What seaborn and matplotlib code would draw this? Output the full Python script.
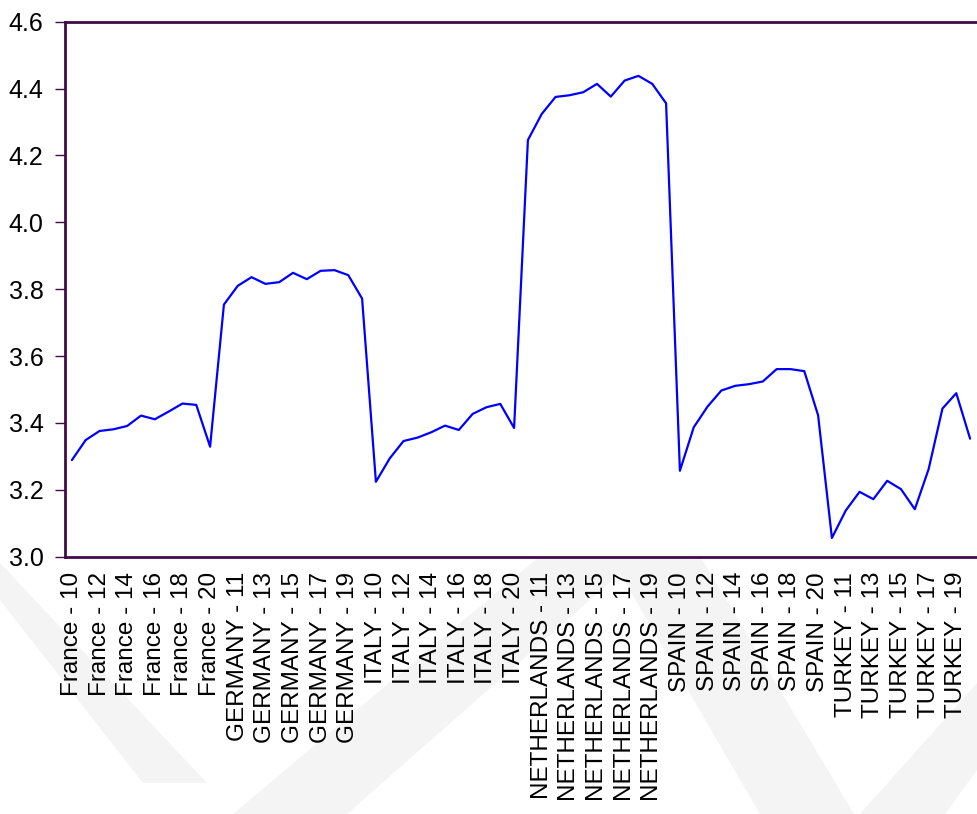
import matplotlib
matplotlib.use("Agg")
import matplotlib.pyplot as plt
from matplotlib.patches import Polygon
import numpy as np
import pandas as pd
import seaborn as sns

# Panel observations, years 2010-2020 for each country
countries = ["France", "GERMANY", "ITALY", "NETHERLANDS", "SPAIN", "TURKEY"]
years = list(range(10, 21))

france = [3.289, 3.349, 3.376, 3.381, 3.391, 3.422, 3.411, 3.434, 3.458, 3.454, 3.329]
germany = [3.754, 3.810, 3.836, 3.816, 3.821, 3.849, 3.830, 3.855, 3.857, 3.842, 3.772]
italy = [3.224, 3.294, 3.346, 3.356, 3.372, 3.392, 3.379, 3.427, 3.447, 3.457, 3.385]
netherlands = [4.246, 4.324, 4.375, 4.380, 4.389, 4.414, 4.376, 4.424, 4.438, 4.414, 4.356]
spain = [3.257, 3.387, 3.449, 3.497, 3.511, 3.516, 3.524, 3.561, 3.561, 3.555, 3.423]
turkey = [3.056, 3.138, 3.194, 3.172, 3.227, 3.202, 3.142, 3.262, 3.443, 3.489, 3.353]

series = [france, germany, italy, netherlands, spain, turkey]
labels = [f"{c} - {y}" for c in countries for y in years]
values = [v for s in series for v in s]

df = pd.DataFrame({"obs": np.arange(len(values)), "label": labels, "value": values})

sns.set_style("white")
plt.rcParams["font.family"] = ["Liberation Sans", "DejaVu Sans"]

W, H = 977, 814
frame = "#420b48"

fig = plt.figure(figsize=(W / 100, H / 100), dpi=100)
fig.patch.set_facecolor("white")

# faint background emblem
def px(points):
    return [(x / W, 1 - y / H) for x, y in points]

emblem = [
    [(0, 563), (207, 783), (143, 783), (0, 600)],
    [(233, 814), (347, 814), (640, 556), (540, 556)],
    [(610, 556), (700, 556), (854, 814), (760, 814)],
    [(860, 814), (945, 814), (977, 770), (977, 683)],
]
for poly in emblem:
    fig.patches.append(Polygon(px(poly), closed=True, transform=fig.transFigure,
                               facecolor="#f4f4f4", edgecolor="none", zorder=0))

left, right, top, bottom = 65, 977, 21.7, 556.7
ax = fig.add_axes([left / W, 1 - bottom / H, (right - left) / W, (bottom - top) / H])
ax.set_facecolor("white")
ax.set_zorder(1)

sns.lineplot(data=df, x="obs", y="value", ax=ax, color="#0000ff", linewidth=1.6)

ax.set_xlim(-0.5, len(values) - 0.5)
ax.set_ylim(3.0, 4.6)
ax.set_xlabel("")
ax.set_ylabel("")

yt = np.round(np.arange(3.0, 4.61, 0.2), 1)
ax.set_yticks(yt)
ax.set_yticklabels([f"{v:.1f}" for v in yt], fontsize=18, color="black")

label_pos = np.arange(0, len(values), 2)
ax.set_xticks(label_pos)
ax.set_xticklabels([labels[i] for i in label_pos], rotation=90, fontsize=17.5,
                   color="black", va="top", ha="center")
ax.set_xticks(np.arange(-0.5, len(values), 1.0), minor=True)

ax.tick_params(axis="x", which="major", length=0, pad=11)
ax.tick_params(axis="x", which="minor", length=7.5, width=1, color=frame, direction="out")
ax.tick_params(axis="y", which="major", length=7.5, width=1, color=frame,
               direction="out", pad=8, left=True)

for side in ["left", "top", "bottom"]:
    ax.spines[side].set_visible(True)
    ax.spines[side].set_color(frame)
    ax.spines[side].set_linewidth(2)
ax.spines["right"].set_visible(False)
ax.grid(False)

fig.savefig("out.png", dpi=100, facecolor="white")
